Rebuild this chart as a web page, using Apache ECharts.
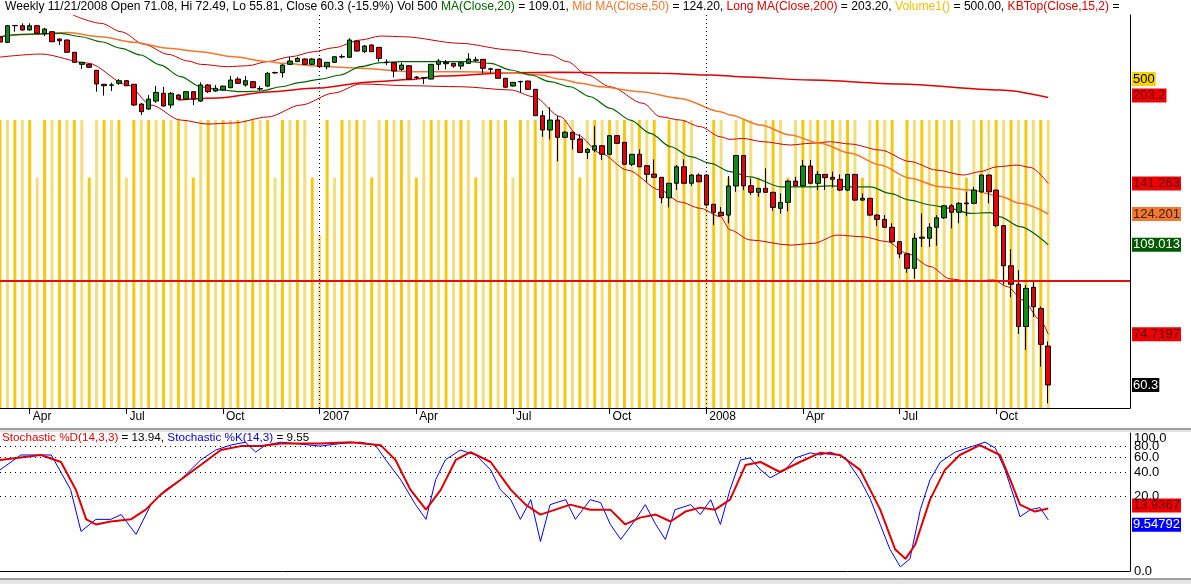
<!DOCTYPE html>
<html><head><meta charset="utf-8">
<script src="https://cdn.jsdelivr.net/npm/echarts@6/dist/echarts.min.js"></script>
<style>html,body{margin:0;padding:0;background:#fff;overflow:hidden}#c{width:1191px;height:584px}</style>
</head><body><div id="c"></div>
<script>
// ---------- categories / ticks ----------
const firstWeek = [2006, 2, 10];          // week ending Fri 10 Mar 2006
const weekCount = 153;                     // 142 bars + empty space to the right
const tickDates  = ['2006-04-07','2006-07-07','2006-10-06','2007-01-05','2007-04-06','2007-07-06','2007-10-05','2008-01-04','2008-04-04','2008-07-04','2008-10-03'];
const tickLabels = ['Apr','Jul','Oct','2007','Apr','Jul','Oct','2008','Apr','Jul','Oct'];
const yearLines  = ['2007-01-05','2008-01-04'];

// ---------- weekly OHLC ----------
const opens = [262.3,256.5,275.1,275.1,270.2,275.1,266.0,268.2,260.1,259.0,
245.9,233.7,233.7,227.9,214.8,214.2,215.7,218.1,214.8,197.6,
193.5,200.1,206.8,196.8,205.3,201.8,208.2,200.1,214.2,208.8,
209.7,211.7,219.6,214.2,217.2,211.0,213.2,225.4,225.6,233.7,
236.4,239.0,233.7,239.0,231.4,235.7,241.1,240.7,257.9,246.7,
253.6,251.1,235.9,235.3,228.8,232.3,221.1,220.5,219.6,233.7,
234.3,234.7,232.0,234.7,238.2,238.7,229.3,228.8,220.3,213.2,
217.0,217.8,210.3,188.1,177.1,184.7,171.7,175.4,170.5,161.1,
162.7,165.7,159.8,172.9,168.1,153.2,159.8,152.3,147.0,145.0,
133.0,141.4,151.6,141.4,146.4,146.4,129.4,125.1,123.6,139.8,
159.0,139.9,136.1,138.4,136.1,127.2,130.4,142.7,139.9,152.1,
141.4,146.8,145.0,143.8,137.4,146.8,131.7,132.7,123.6,121.4,
117.4,110.5,104.9,98.7,112.1,112.1,117.4,122.2,128.6,125.1,
129.7,129.9,136.4,146.4,137.4,118.2,99.8,92.3,77.2,91.1,
83.3,71.08];
const highs = [263.4,276.0,276.0,277.9,277.9,276.0,272.5,269.0,260.5,259.4,
246.2,236.0,234.5,228.2,215.1,216.2,219.6,218.7,215.1,198.5,
205.3,213.5,212.6,207.9,206.1,208.8,208.8,216.6,215.1,214.2,
213.5,222.4,221.5,222.4,217.8,213.2,226.2,226.5,234.0,241.3,
241.0,239.5,240.0,240.0,236.0,242.1,243.8,260.9,259.0,253.6,
254.1,251.4,238.7,236.0,235.3,233.0,222.4,221.1,234.0,239.0,
238.0,235.0,236.0,244.9,241.3,239.0,230.4,229.1,220.6,216.9,
218.1,218.1,210.5,192.1,194.9,188.1,176.3,175.6,173.9,164.1,
180.1,166.2,173.4,173.4,168.3,160.0,163.2,152.7,156.4,145.2,
141.6,152.7,156.4,147.0,147.5,146.7,129.5,128.0,145.8,159.3,
159.3,144.3,138.6,150.6,136.3,135.5,143.4,145.3,156.0,156.0,
148.9,147.0,148.5,146.8,147.0,147.0,135.5,132.8,124.2,123.6,
119.4,110.8,105.3,114.5,124.5,119.4,123.6,129.0,129.5,130.6,
136.4,139.3,146.6,146.6,137.6,118.5,107.1,98.0,92.0,93.3,
84.0,72.49];
const lows = [255.7,255.7,268.2,269.6,269.6,265.7,263.4,256.8,253.6,245.7,
235.5,229.1,230.1,208.2,204.7,208.8,214.2,213.2,196.0,188.7,
192.7,198.5,195.5,194.1,201.0,201.4,196.8,199.3,207.0,207.9,
209.2,211.4,215.1,212.6,211.4,208.8,212.3,224.3,221.0,233.0,
236.0,233.0,233.0,231.1,228.8,235.0,239.7,240.5,246.7,245.0,
246.2,236.4,233.0,221.3,227.2,219.4,219.4,215.1,219.4,228.2,
228.8,230.4,228.8,234.5,236.4,225.0,225.0,220.1,211.4,212.8,
207.3,209.7,187.9,172.1,170.2,155.1,171.2,163.1,160.6,156.6,
161.3,156.0,159.3,166.9,152.7,152.1,151.4,142.3,144.6,129.9,
127.7,137.4,140.9,139.8,142.1,128.4,118.5,123.1,119.4,136.4,
137.4,134.7,133.6,135.7,125.9,124.4,125.6,139.8,139.5,140.9,
137.4,137.4,139.0,136.8,136.8,131.2,131.2,123.1,118.0,117.0,
109.9,103.0,96.9,94.5,108.1,108.1,108.6,121.6,116.9,119.4,
123.1,129.5,135.7,129.9,117.5,92.2,87.4,74.8,69.9,80.3,
65.2,55.81];
const closes = [256.8,275.1,275.4,270.2,275.1,266.4,271.3,257.1,258.2,245.9,
235.7,235.7,230.8,215.1,213.5,214.0,218.1,213.5,196.8,191.3,
201.8,207.6,196.0,206.8,201.8,208.2,201.8,214.2,208.2,211.2,
213.2,218.7,215.7,218.1,211.7,210.5,225.0,225.8,233.0,237.0,
239.6,233.7,239.0,231.4,235.7,241.3,241.5,259.0,247.2,252.5,
246.5,239.6,235.5,227.2,233.0,219.6,221.5,220.9,233.7,237.0,
235.7,232.0,235.3,239.0,237.8,229.8,228.9,220.3,212.2,216.6,
217.4,210.3,188.1,177.1,184.7,171.7,175.4,170.2,161.1,163.2,
165.7,159.8,172.9,167.4,153.2,159.8,151.6,146.8,145.0,133.0,
141.4,151.6,141.4,146.4,142.3,129.0,125.1,123.3,139.8,159.0,
139.9,136.1,138.4,136.1,127.7,130.4,142.7,139.9,152.1,141.4,
146.8,144.8,143.8,137.4,146.8,131.7,132.7,123.6,121.4,117.4,
110.5,104.9,98.7,112.1,112.6,117.4,122.2,128.6,125.1,129.9,
130.1,137.4,146.4,136.4,118.2,99.8,92.3,77.2,90.7,83.9,
71.6,60.3];
const volumes = [500,500,500,500,500,400,500,500,500,500,
500,500,400,500,500,500,500,400,500,500,
500,500,500,500,500,500,400,500,500,500,
500,500,500,500,500,500,500,400,500,500,
500,500,400,300,500,400,500,500,500,500,
400,500,500,500,500,500,400,500,500,500,
500,500,500,500,400,500,500,500,500,400,
500,500,500,500,500,500,500,500,400,500,
500,500,500,500,500,500,500,500,500,400,
500,500,500,500,400,400,500,500,400,500,
500,500,400,500,500,500,400,500,500,500,
500,500,500,500,500,500,400,500,500,500,
500,400,500,500,500,500,500,500,500,500,
400,500,500,500,500,500,500,500,500,500,
500,500];

// ---------- overlay lines: [week index, value] ----------
const ma20 = [[0,262.6],[2.8,265.3],[8.2,266.4],[10.9,262.6],[13.6,257.1],[16.3,250.1],[18.9,243.1],[21.6,233.0],[24.3,221.8],[27,212.6],[29.7,209.7],[32.4,208.2],[35.1,208.8],[37.8,212.6],[40.5,216.6],[43.1,219.6],[45.8,223.4],[48.5,231.4],[51.2,235.3],[53.9,236.4],[59.3,236.4],[63.3,236.4],[66,234.7],[68.7,228.2],[71.4,223.4],[74,217.2],[76.7,212.6],[79.4,203.8],[82.1,194.1],[84.8,184.7],[87.5,174.6],[90.2,165.0],[92.9,158.2],[95.6,153.8],[98.2,148.5],[100.9,145.3],[105,139.3],[109,139.3],[111.7,139.8],[114.4,139.3],[117.1,139.3],[119.7,135.5],[122.4,131.7],[125.1,129.0],[127.8,127.2],[130.5,124.5],[133.2,124.9],[134.5,122.7],[137.2,117.7],[141,109.013]];
const ma50 = [[0,262.6],[4.2,265.3],[9.1,267.3],[13.6,262.6],[18,256.5],[22.6,250.1],[27,246.5],[31.4,241.3],[36,236.4],[38.2,234.7],[42.7,232.0],[47.2,230.4],[48.5,229.8],[55.2,226.5],[62,226.5],[68.7,225.6],[72.7,223.4],[75.4,219.4],[78.1,215.7],[80.8,212.6],[86.1,208.2],[91.5,202.4],[96.9,191.3],[98.2,188.7],[102.3,180.8],[106.3,173.4],[110.3,167.4],[114.4,160.5],[118.4,152.7],[122.4,144.5],[126.5,139.3],[130.5,137.4],[134.5,133.9],[137.2,129.9],[141,124.201]];
const ma200 = [[24,201.0],[29.3,202.7],[36,208.0],[42.7,211.4],[49.9,217.0],[55.2,219.1],[59.3,222.4],[68.7,225.6],[75.4,226.0],[88.8,225.0],[95.6,223.4],[99.6,221.8],[109,218.7],[121,215.1],[134.5,209.7],[141,203.2]];
const kbTop = [[9.8,287.9],[13.6,277.9],[16.3,268.2],[19.4,254.3],[22.6,243.8],[25.3,237.0],[27,233.7],[30.6,231.4],[33.3,232.3],[36,236.4],[39.1,241.3],[42.2,246.5],[44.9,250.7],[48.5,259.0],[51.2,263.4],[54.3,262.6],[61.9,255.4],[68.7,248.3],[74,243.1],[76.3,236.4],[79,223.4],[82.1,212.6],[86.5,198.2],[88.8,187.3],[91.5,184.7],[94.2,179.6],[96.9,172.1],[98.2,170.2],[99.9,170.9],[102.7,168.5],[106.3,166.2],[109,167.4],[111.7,168.5],[114.4,166.9],[118.4,162.7],[122.4,155.0],[126,149.5],[129.6,146.4],[131.8,148.5],[134.1,151.6],[136.8,152.7],[138.6,151.2],[141,141.263]];
const kbBot = [[0,241.0],[5.5,244.1],[11.8,235.0],[17.2,214.2],[20.3,196.8],[24.3,184.7],[27.9,181.6],[31.4,182.4],[36,187.1],[40.5,196.8],[44.9,207.0],[48.5,215.1],[55,213.5],[62,212.6],[68.7,209.7],[71.8,203.8],[75.4,187.3],[77.7,173.4],[80.8,160.5],[84.4,149.5],[88.8,137.4],[91.5,130.6],[94.2,127.2],[96.9,122.8],[98.2,116.1],[100.9,111.3],[106.3,108.9],[109.4,109.7],[112.6,113.6],[116.1,112.8],[119.3,110.5],[122,105.2],[125.1,99.5],[127.8,94.4],[130.5,93.4],[133.6,94.0],[135.5,91.4],[137.6,86.3],[139.9,79.4],[141,74.7197]];
const refLevels = [93.6];

// ---------- stochastic ----------
const stochK = [[0,42.9],[2.8,64.2],[6.9,64.2],[9.5,24.6],[10.9,6.2],[12.9,9.7],[14.9,9.7],[16.3,11.4],[18.3,5.5],[20.3,15.7],[22.3,24.6],[24.3,32.6],[27,56.2],[29,73.2],[31,83.4],[33,90.2],[34.4,69.4],[35.7,83.4],[37.8,90.2],[43.1,81.3],[45.8,87.0],[48.5,90.2],[50.5,83.4],[51.9,56.2],[53.9,32.6],[55.9,15.7],[57.3,9.7],[58.6,32.6],[59.9,56.2],[61.9,73.2],[64,64.2],[66,42.9],[67.3,24.6],[68.7,18.3],[70,9.7],[71.4,18.3],[72.7,4.0],[74,15.7],[76.1,18.3],[77.4,9.7],[79.4,18.3],[80.8,16.7],[82.1,8.1],[83.5,4.4],[85.5,9.7],[86.8,15.7],[88.2,8.1],[89.5,4.4],[90.8,13.4],[92.9,15.7],[94.2,11.4],[95.6,18.3],[96.9,8.1],[98.2,24.6],[99.6,56.2],[100.9,59.3],[102.3,42.9],[103.6,34.5],[105.6,42.9],[107,59.3],[109,68.0],[110.3,64.2],[111.7,69.4],[113.7,59.3],[115.7,32.6],[117.1,18.3],[118.4,8.1],[119.7,2.65],[121.1,0.4],[122.4,1.3],[123.8,13.4],[125.1,32.6],[126.5,53.2],[128.5,69.4],[130.5,79.2],[132.5,90.2],[133.9,77.0],[135.2,42.9],[136.5,18.3],[137.2,10.6],[138.6,13.4],[139.9,14.3],[141,9.54792]];
const stochD = [[0,56.2],[5.5,64.2],[8.2,53.2],[10.2,24.6],[11.6,9.7],[12.9,8.1],[14.9,9.0],[17.6,9.7],[19.6,13.4],[21.6,21.3],[24.3,32.6],[27,49.1],[29.7,73.2],[32.4,81.3],[35.1,81.3],[37.8,87.0],[43.1,87.0],[47.2,90.2],[51.2,83.4],[53.2,56.2],[55.2,24.6],[57.3,13.4],[59.3,24.6],[61.3,56.2],[63.3,69.4],[66,53.2],[68.7,24.6],[70.7,15.7],[72.7,11.4],[74.7,13.4],[76.7,15.7],[79.4,13.4],[82.1,13.4],[84.1,8.1],[86.1,10.3],[88.2,11.4],[90.2,9.0],[92.2,12.6],[94.2,14.3],[96.2,13.4],[98.2,18.3],[100.3,49.1],[102.3,53.2],[104.9,40.5],[107.6,53.2],[110.3,68.0],[113,64.2],[115.7,42.9],[118.4,13.4],[120.4,2.65],[121.8,1.3],[123.1,3.4],[125.1,18.3],[127.1,42.9],[129.1,64.2],[131.8,83.4],[134.5,64.2],[135.9,32.6],[137.2,15.7],[139.2,12.6],[141,13.9367]];
const stochTicks = [0, 20, 40, 60, 80, 100];
const stochShift = 3.6;   // the panel uses a log scale of (value + 3.6)

// ---------- build ----------
const FONT = "'Liberation Sans', Arial, sans-serif";
const cats = [];
for (let i = 0; i < weekCount; i++) {
  cats.push(new Date(Date.UTC(firstWeek[0], firstWeek[1], firstWeek[2]) + i * 7 * 864e5).toISOString().slice(0, 10));
}
const candleData = opens.map((o, i) => [o, closes[i], lows[i], highs[i]]);
const last = a => a[a.length - 1][1];
const shift = a => a.map(p => [p[0], p[1] + stochShift]);

function tag(value, text, bg, fg, offY) {
  return {
    yAxis: value,
    lineStyle: { color: 'rgba(0,0,0,0)', width: 1 },
    label: { show: true, position: 'end', formatter: text, backgroundColor: bg, color: fg,
      fontSize: 13, fontFamily: FONT, padding: [1, 1, 0, 1], distance: 2, offset: [0, offY || 0] }
  };
}
const mlBase = { silent: true, symbol: ['none', 'none'], animation: false };
function lineSeries(name, pts, color, width, tags) {
  return { name, type: 'line', xAxisIndex: 1, yAxisIndex: 0, data: pts, showSymbol: false,
    smooth: 0.3, smoothMonotone: 'x', lineStyle: { color, width }, itemStyle: { color },
    animation: false, z: 3, markLine: Object.assign({}, mlBase, { data: tags }) };
}
const rs = (color) => ({ color, fontSize: 12.1, fontFamily: FONT, fontWeight: 'normal' });
const rs2 = (color) => ({ color, fontSize: 11.7, fontFamily: FONT, fontWeight: 'normal' });

const chart = echarts.init(document.getElementById('c'), null, { renderer: 'canvas' });
chart.setOption({
  animation: false,
  backgroundColor: '#fff',
  title: [{
    left: 5, top: 1, padding: 0,
    text: '{k|Weekly 11/21/2008 Open 71.08, Hi 72.49, Lo 55.81, Close 60.3 (-15.9%) Vol 500 }{g|MA(Close,20)}{k| = 109.01, }{o|Mid MA(Close,50)}{k| = 124.20, }{r|Long MA(Close,200)}{k| = 203.20, }{y|Volume1()}{k| = 500.00, }{r|KBTop(Close,15,2)}{k| =}',
    textStyle: { fontWeight: 'normal', rich: { k: rs('#000'), g: rs('#006400'), o: rs('#f07830'), r: rs('#e00000'), y: rs('#f0c000') } }
  }, {
    left: 2, top: 432, padding: 0,
    text: '{r|Stochastic %D(14,3,3)}{k| = 13.94, }{b|Stochastic %K(14,3)}{k| = 9.55}',
    textStyle: { fontWeight: 'normal', rich: { k: rs2('#000'), r: rs2('#e00000'), b: rs2('#0000e0') } }
  }],
  graphic: [
    { type: 'rect', shape: { x: 0, y: 428, width: 1191, height: 2 }, style: { fill: '#a0a0a0' }, silent: true },
    { type: 'rect', shape: { x: 0, y: 430, width: 1191, height: 2 }, style: { fill: '#e4e4e4' }, silent: true },
    { type: 'rect', shape: { x: 0, y: 578, width: 1191, height: 2 }, style: { fill: '#a0a0a0' }, silent: true },
    { type: 'rect', shape: { x: 0, y: 580, width: 1191, height: 4 }, style: { fill: '#e4e4e4' }, silent: true }
  ],
  grid: [
    { left: -1, width: 1131, top: 15, height: 393 },
    { left: -1, width: 1131, top: 433, height: 138 }
  ],
  xAxis: [
    { type: 'category', gridIndex: 0, data: cats, boundaryGap: false,
      axisLine: { onZero: false, lineStyle: { color: '#000', width: 1 } },
      axisTick: { interval: (i, v) => tickDates.includes(v), length: 6, lineStyle: { color: '#000' } },
      axisLabel: { interval: (i, v) => tickDates.includes(v), formatter: v => tickLabels[tickDates.indexOf(v)] || '',
        align: 'left', padding: [0, 0, 0, 3], margin: 3, color: '#000', fontSize: 12, fontFamily: FONT },
      splitLine: { show: false } },
    { type: 'value', gridIndex: 0, min: 0, max: weekCount - 1, show: false },
    { type: 'value', gridIndex: 1, min: 0, max: weekCount - 1,
      axisLine: { show: true, onZero: false, lineStyle: { color: '#000' } }, axisTick: { show: false },
      axisLabel: { show: false }, splitLine: { show: false } }
  ],
  yAxis: [
    { type: 'log', logBase: 10, gridIndex: 0, position: 'right', min: 54.72, max: 287.86,
      axisLine: { show: true, onZero: false, lineStyle: { color: '#000' } }, axisTick: { show: false },
      axisLabel: { show: false }, splitLine: { show: false } },
    { type: 'value', gridIndex: 0, min: 0, max: 682.3, show: false },
    { type: 'log', logBase: 10, gridIndex: 1, position: 'right', min: stochShift, max: 118.3,
      axisLine: { show: true, onZero: false, lineStyle: { color: '#000' } }, axisTick: { show: false },
      axisLabel: { show: false }, splitLine: { show: false } }
  ],
  series: [
    { name: 'Volume1()', type: 'bar', xAxisIndex: 0, yAxisIndex: 1, data: volumes, barWidth: 3,
      itemStyle: { color: p => (p.dataIndex % 2 === 0 ? '#f6c90e' : '#f3df7a') }, animation: false, z: 1,
      markLine: Object.assign({}, mlBase, { data: [tag(500, String(volumes[volumes.length - 1]), '#f8d200', '#000', -41)] }) },
    lineSeries('KBTop', kbTop, '#c80000', 1, [tag(last(kbTop), String(last(kbTop)), '#ee0000', '#600000')]),
    lineSeries('KBBottom', kbBot, '#c80000', 1, [tag(last(kbBot), String(last(kbBot)), '#ee0000', '#600000')]),
    lineSeries('Long MA', ma200, '#e00000', 1.5, [tag(last(ma200), String(last(ma200)), '#ee0000', '#600000', -2)]),
    lineSeries('Mid MA', ma50, '#f07830', 1.5, [tag(last(ma50), String(last(ma50)), '#f07830', '#402000')]),
    lineSeries('MA20', ma20, '#006400', 1.2, [tag(last(ma20), String(last(ma20)), '#005a00', '#fff')]),
    { name: 'Price', type: 'candlestick', xAxisIndex: 0, yAxisIndex: 0, data: candleData, barWidth: 5,
      itemStyle: { color: '#108c10', color0: '#ee0000', borderColor: '#000', borderColor0: '#000', borderWidth: 1 },
      animation: false, z: 4,
      markLine: Object.assign({}, mlBase, { data: [
        { yAxis: refLevels[0], lineStyle: { color: '#e01010', width: 2, type: 'solid' }, label: { show: false } },
        { xAxis: yearLines[0], lineStyle: { color: '#000', width: 1, type: [1, 3] }, label: { show: false } },
        { xAxis: yearLines[1], lineStyle: { color: '#000', width: 1, type: [1, 3] }, label: { show: false } },
        tag(closes[closes.length - 1], String(closes[closes.length - 1]), '#000', '#fff')
      ] }) },
    { name: '%K', type: 'line', xAxisIndex: 2, yAxisIndex: 2, data: shift(stochK), showSymbol: false,
      lineStyle: { color: '#0000ff', width: 1 }, animation: false, z: 3,
      markLine: Object.assign({}, mlBase, { data: [tag(last(stochK) + stochShift, String(last(stochK)), '#0000ff', '#fff', 5)] }) },
    { name: '%D', type: 'line', xAxisIndex: 2, yAxisIndex: 2, data: shift(stochD), showSymbol: false,
      lineStyle: { color: '#e00000', width: 2 }, animation: false, z: 4,
      markLine: Object.assign({}, mlBase, { data: [tag(last(stochD) + stochShift, String(last(stochD)), '#ee0000', '#600000', -3)]
        .concat(stochTicks.map(t => ({
          yAxis: t + stochShift,
          lineStyle: (t === 0 || t === 100) ? { color: 'rgba(0,0,0,0)' } : { color: '#000', width: 1, type: [1, 4] },
          label: { show: true, position: 'end', formatter: t.toFixed(1), color: '#000', fontSize: 13, fontFamily: FONT, distance: 4 }
        }))) }) }
  ]
});
</script></body></html>
